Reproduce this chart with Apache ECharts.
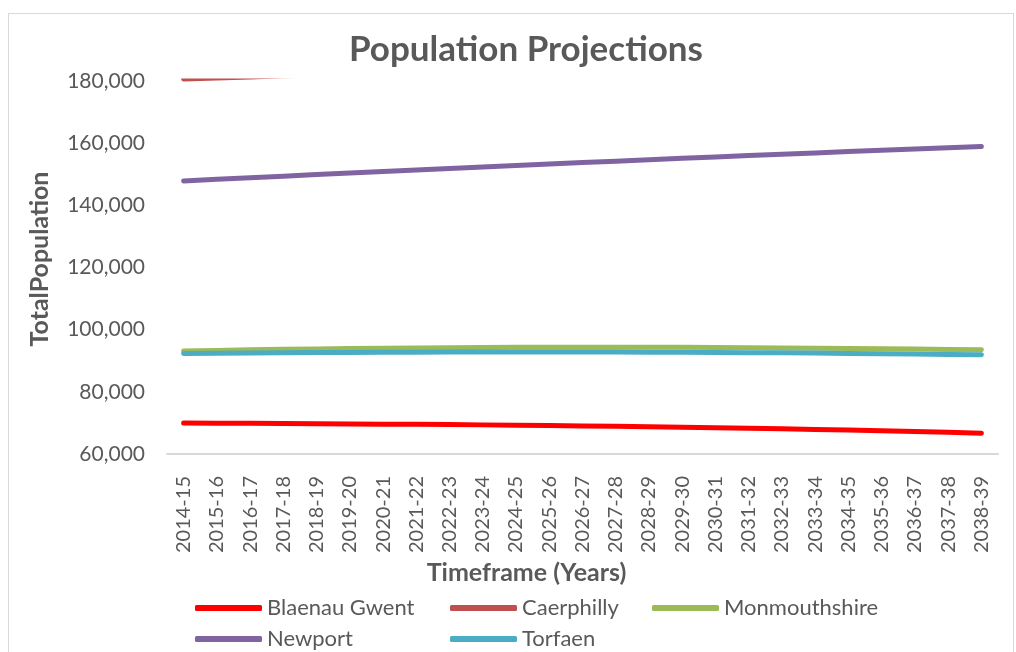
<!DOCTYPE html>
<html>
<head>
<meta charset="utf-8">
<script src="https://cdn.jsdelivr.net/npm/echarts@6/dist/echarts.min.js"></script>
<style>
  html, body { margin: 0; padding: 0; background: #fff; }
  #frame { position: absolute; left: 8px; top: 13px; width: 1004px; height: 660px; border: 1px solid #d9d9d9; }
  #chart { position: absolute; left: 0; top: 0; width: 1016px; height: 652px; }
</style>
</head>
<body>
<div id="frame"></div>
<div id="chart"></div>
<script>
  // categories
  var years = ['2014-15', '2015-16', '2016-17', '2017-18', '2018-19', '2019-20', '2020-21', '2021-22',
    '2022-23', '2023-24', '2024-25', '2025-26', '2026-27', '2027-28', '2028-29', '2029-30', '2030-31',
    '2031-32', '2032-33', '2033-34', '2034-35', '2035-36', '2036-37', '2037-38', '2038-39'];

  // values (Caerphilly runs off the top of the axis)
  var blaenauGwent = [69970, 69920, 69860, 69800, 69740, 69680, 69610, 69540, 69460, 69370, 69270, 69160,
    69040, 68910, 68770, 68620, 68460, 68290, 68110, 67920, 67720, 67480, 67230, 66970, 66700];
  var caerphilly = [180640, 180980, 181320, 181650, 181970, 182290, 182600, 182910, 183210, 183510, 183800,
    184090, 184370, 184650, 184920, 185190, 185460, 185720, 185980, 186240, 186490, 186740, 186990, 187230, 187470];
  var monmouthshire = [93140, 93330, 93500, 93660, 93800, 93920, 94030, 94120, 94200, 94260, 94310, 94340,
    94360, 94360, 94340, 94310, 94260, 94200, 94130, 94050, 93960, 93860, 93760, 93650, 93540];
  var newport = [147840, 148360, 148875, 149385, 149890, 150390, 150885, 151375, 151860, 152340, 152815, 153285,
    153750, 154210, 154665, 155115, 155560, 156000, 156435, 156865, 157290, 157710, 158125, 158535, 158940];
  var torfaen = [92340, 92420, 92500, 92570, 92630, 92680, 92720, 92760, 92790, 92810, 92820, 92820,
    92810, 92790, 92760, 92720, 92670, 92610, 92540, 92460, 92370, 92270, 92160, 92040, 91910];

  var names = ['Blaenau Gwent', 'Caerphilly', 'Monmouthshire', 'Newport', 'Torfaen'];
  var colors = ['#FF0000', '#C0504D', '#9BBB59', '#8064A2', '#4BACC6'];
  var values = [blaenauGwent, caerphilly, monmouthshire, newport, torfaen];

  var fontFamily = 'Lato';
  var textColor = '#595959';

  function makeLegend(name, left, top) {
    return {
      data: [name],
      left: left,
      top: top,
      padding: 0,
      icon: 'roundRect',
      itemWidth: 67,
      itemHeight: 6,
      itemGap: 5,
      textStyle: { fontFamily: fontFamily, fontSize: 22, color: textColor }
    };
  }

  var chart = echarts.init(document.getElementById('chart'));
  chart.setOption({
    animation: false,
    color: colors,
    title: {
      text: 'Population Projections',
      left: 344,
      top: 27,
      textStyle: { fontFamily: fontFamily, fontSize: 35, fontWeight: 'bold', color: textColor }
    },
    legend: [
      makeLegend('Blaenau Gwent', 195, 597),
      makeLegend('Caerphilly', 450, 597),
      makeLegend('Monmouthshire', 652, 597),
      makeLegend('Newport', 195, 628),
      makeLegend('Torfaen', 450, 628)
    ],
    grid: { left: 167, right: 18, top: 81, bottom: 198 },
    xAxis: {
      type: 'category',
      data: years,
      boundaryGap: true,
      name: 'Timeframe (Years)',
      nameLocation: 'middle',
      nameGap: 104,
      nameTextStyle: {
        fontFamily: fontFamily, fontSize: 25, fontWeight: 'bold', color: textColor,
        padding: [0, 112, 0, 0]
      },
      axisLine: { lineStyle: { color: '#d9d9d9', width: 2 } },
      axisTick: { show: false },
      axisLabel: { rotate: 90, interval: 0, margin: 22, fontFamily: fontFamily, fontSize: 20, color: textColor }
    },
    yAxis: {
      type: 'value',
      min: 60000,
      max: 180000,
      interval: 20000,
      name: 'TotalPopulation',
      nameLocation: 'middle',
      nameGap: 115,
      nameTextStyle: {
        fontFamily: fontFamily, fontSize: 25, fontWeight: 'bold', color: textColor,
        padding: [0, 0, 0, 17]
      },
      axisLine: { show: false },
      axisTick: { show: false },
      splitLine: { show: false },
      axisLabel: {
        margin: 22,
        fontFamily: fontFamily,
        fontSize: 21,
        color: textColor,
        formatter: function (v) { return v.toLocaleString('en-US'); }
      }
    },
    series: names.map(function (name, i) {
      return {
        name: name,
        type: 'line',
        data: values[i],
        showSymbol: false,
        symbol: 'none',
        clip: true,
        lineStyle: { width: 5, color: colors[i], cap: 'round', join: 'round' },
        itemStyle: { color: colors[i] }
      };
    })
  });
</script>
</body>
</html>
